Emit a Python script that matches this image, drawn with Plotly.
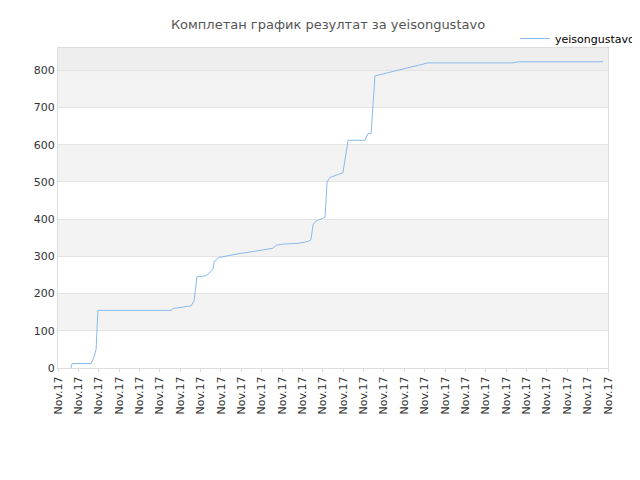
import plotly.graph_objects as go

tick_labels = ["Nov.17"] * 28
x_vals = [0.64,0.69,1.62,1.77,1.87,1.96,5.55,5.65,6.53,6.68,6.82,7.27,7.61,7.66,7.90,8.84,9.82,10.56,10.70,11.05,11.78,12.27,12.42,12.52,12.67,13.11,13.21,13.35,13.99,14.09,14.24,15.07,15.22,15.37,15.46,15.56,18.16,22.34,22.58,26.76]
y_vals = [0,12,12,30,50,155,155,160,167,180,245,248,265,285,297,307,315,322,330,333,335,340,345,385,395,405,500,512,525,560,612,612,630,630,720,785,820,820,823,823]

fig = go.Figure()
shapes = []
for lo, hi, c in [(100,200,"#f3f3f3"),(300,400,"#f3f3f3"),(500,600,"#f3f3f3"),(700,800,"#f3f3f3"),(800,860,"#eeeeee")]:
    shapes.append(dict(type="rect", xref="paper", yref="y", x0=0, x1=1, y0=lo, y1=hi,
                       fillcolor=c, line_width=0, layer="below"))
fig.add_trace(go.Scatter(x=x_vals, y=y_vals, mode="lines", name="yeisongustavo",
                         line=dict(color="#88bbee", width=1)))
fig.update_layout(
    width=640, height=480, shapes=shapes, autosize=False,
    margin=dict(l=50, r=40, t=40, b=120, autoexpand=False),
    plot_bgcolor="white", paper_bgcolor="white",
    title=dict(text="Комплетан график резултат за yeisongustavo", x=0.5, xanchor="center", y=0.975,
               font=dict(family="DejaVu Sans", size=13, color="#555")),
    font=dict(family="DejaVu Sans", size=11, color="#333"),
    showlegend=True,
    legend=dict(x=1.06, y=1.075, xanchor="right", yanchor="top", bgcolor="rgba(0,0,0,0)",
                font=dict(size=11, color="#000")),
    xaxis=dict(range=[0,27], tickmode="array", tickvals=list(range(28)), ticktext=tick_labels,
               tickangle=-90, showgrid=False, zeroline=False, showline=True, linecolor="#ddd",
               mirror=True, ticks="outside", ticklen=3, tickcolor="#ddd", automargin=False,
               tickfont=dict(size=11)),
    yaxis=dict(range=[0,860], tickvals=[0,100,200,300,400,500,600,700,800], showgrid=True,
               gridcolor="#e4e4e4", zeroline=False, showline=True, linecolor="#ddd", mirror=True,
               automargin=False, tickfont=dict(size=11)),
)
fig.write_html("out.html")
